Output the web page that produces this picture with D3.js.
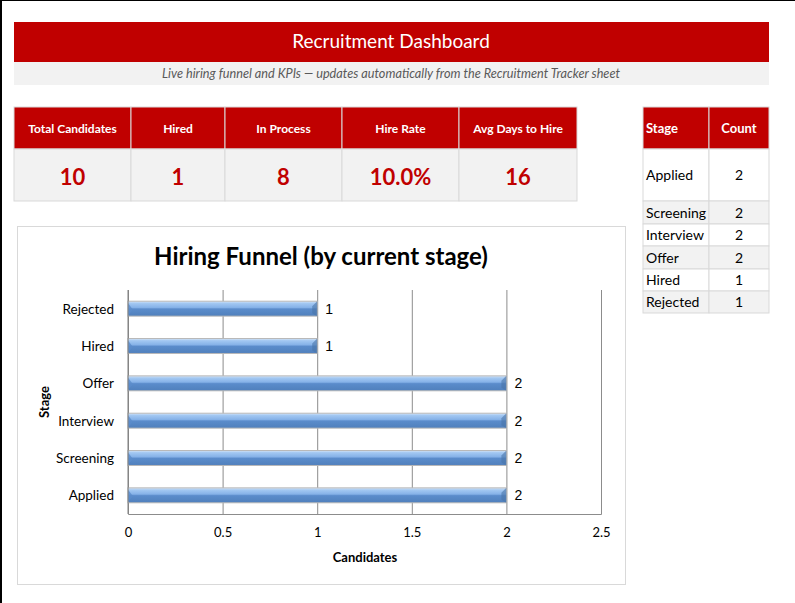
<!DOCTYPE html>
<html>
<head>
<meta charset="utf-8">
<script src="https://cdn.jsdelivr.net/npm/d3@7"></script>
<style>
  body { margin: 0; background: #fff; }
  svg { display: block; }
</style>
</head>
<body>
<script>
// chart values
var stages = ["Applied", "Screening", "Interview", "Offer", "Hired", "Rejected"];
var counts = [2, 2, 2, 2, 1, 1];
var kpiLabels = ["Total Candidates", "Hired", "In Process", "Hire Rate", "Avg Days to Hire"];
var kpiValues = ["10", "1", "8", "10.0%", "16"];
var xTicks = [0, 0.5, 1, 1.5, 2, 2.5];

var RED = "#C00000", GREY = "#F2F2F2", LINE = "#D9D9D9";
var calibri = "Lato, 'Open Sans', sans-serif";

var svg = d3.select("body").append("svg")
  .attr("width", 795)
  .attr("height", 603);

// sheet edge
svg.append("rect").attr("x", 0).attr("y", 0).attr("width", 795).attr("height", 1).attr("fill", "#000");
svg.append("rect").attr("x", 0).attr("y", 0).attr("width", 2).attr("height", 603).attr("fill", "#000");

// banner
svg.append("rect").attr("x", 14).attr("y", 22).attr("width", 755).attr("height", 40).attr("fill", RED);
svg.append("text").attr("x", 391).attr("y", 48)
  .attr("text-anchor", "middle").attr("fill", "#fff")
  .style("font-family", calibri).style("font-size", "19px")
  .text("Recruitment Dashboard");
svg.append("rect").attr("x", 14).attr("y", 62).attr("width", 755).attr("height", 23).attr("fill", GREY);
svg.append("text").attr("x", 391).attr("y", 77.5)
  .attr("text-anchor", "middle").attr("fill", "#595959")
  .style("font-family", calibri).style("font-size", "12.7px").style("font-style", "italic")
  .text("Live hiring funnel and KPIs \u2014 updates automatically from the Recruitment Tracker sheet");

// KPI table
var kpiX = [14, 131, 225, 342, 459, 577];
var kpi = svg.append("g");
kpiLabels.forEach(function(lbl, i) {
  var x0 = kpiX[i], w = kpiX[i + 1] - kpiX[i];
  kpi.append("rect").attr("x", x0).attr("y", 107).attr("width", w).attr("height", 42)
    .attr("fill", RED).attr("stroke", LINE).attr("stroke-width", 1);
  kpi.append("rect").attr("x", x0).attr("y", 149).attr("width", w).attr("height", 52)
    .attr("fill", GREY).attr("stroke", LINE).attr("stroke-width", 1);
  kpi.append("text").attr("x", x0 + w / 2).attr("y", 133)
    .attr("text-anchor", "middle").attr("fill", "#fff")
    .style("font-family", calibri).style("font-size", "12px").style("font-weight", "bold")
    .text(lbl);
  kpi.append("text").attr("x", x0 + w / 2).attr("y", 185)
    .attr("text-anchor", "middle").attr("fill", RED)
    .style("font-family", calibri).style("font-size", "22px").style("font-weight", "bold")
    .text(kpiValues[i]);
});

// stage count table
var tbl = svg.append("g");
var rowY = [149, 201, 224, 246, 269, 291, 313];
[[643, 66, "Stage", "start"], [709, 60, "Count", "middle"]].forEach(function(c) {
  tbl.append("rect").attr("x", c[0]).attr("y", 107).attr("width", c[1]).attr("height", 42)
    .attr("fill", RED).attr("stroke", LINE);
  tbl.append("text").attr("x", c[3] == "start" ? c[0] + 3 : c[0] + c[1] / 2).attr("y", 133)
    .attr("text-anchor", c[3]).attr("fill", "#fff")
    .style("font-family", calibri).style("font-size", "13px").style("font-weight", "bold")
    .text(c[2]);
});
stages.forEach(function(s, i) {
  var y0 = rowY[i], h = rowY[i + 1] - rowY[i];
  var fill = i % 2 == 1 ? GREY : "#fff";
  tbl.append("rect").attr("x", 643).attr("y", y0).attr("width", 66).attr("height", h)
    .attr("fill", fill).attr("stroke", LINE);
  tbl.append("rect").attr("x", 709).attr("y", y0).attr("width", 60).attr("height", h)
    .attr("fill", fill).attr("stroke", LINE);
  tbl.append("text").attr("x", 646).attr("y", y0 + h / 2 + 5)
    .attr("fill", "#000").style("font-family", calibri).style("font-size", "14px")
    .text(s);
  tbl.append("text").attr("x", 739).attr("y", y0 + h / 2 + 5)
    .attr("text-anchor", "middle")
    .attr("fill", "#000").style("font-family", calibri).style("font-size", "14px")
    .text(counts[i]);
});

// chart box
svg.append("rect").attr("x", 17.5).attr("y", 226.5).attr("width", 608).attr("height", 358)
  .attr("fill", "#fff").attr("stroke", LINE);
svg.append("text").attr("x", 321).attr("y", 265)
  .attr("text-anchor", "middle").attr("fill", "#000")
  .style("font-family", calibri).style("font-size", "24px").style("font-weight", "bold")
  .text("Hiring Funnel (by current stage)");

var x = d3.scaleLinear().domain([0, 2.5]).range([128, 601]);
var y = d3.scaleBand().domain(stages.slice().reverse()).range([290, 514])
  .paddingInner(0.6).paddingOuter(0.3);

var defs = svg.append("defs");
var grad = defs.append("linearGradient").attr("id", "barGrad")
  .attr("x1", 0).attr("y1", 0).attr("x2", 0).attr("y2", 1);
[["0%", "#D8E7F8"], ["14%", "#A3C8F2"], ["42%", "#86B2E8"], ["52%", "#5B8CCB"], ["100%", "#5080BC"]]
  .forEach(function(s) { grad.append("stop").attr("offset", s[0]).attr("stop-color", s[1]); });

// gridlines
svg.append("g")
  .attr("transform", "translate(0,514)")
  .call(d3.axisBottom(x).tickValues(xTicks).tickSize(-224).tickFormat(""))
  .call(function(g) {
    g.select(".domain").attr("stroke", "#8C8C8C");
    g.selectAll(".tick line").attr("stroke", "#8C8C8C");
  });

// tick labels
svg.append("g")
  .attr("transform", "translate(0,514)")
  .call(d3.axisBottom(x).tickValues(xTicks).tickSize(0).tickPadding(14)
    .tickFormat(function(d) { return d; }))
  .call(function(g) {
    g.select(".domain").remove();
    g.selectAll("text").attr("fill", "#000")
      .style("font-family", calibri).style("font-size", "13px");
  });

// bars
var bars = svg.append("g");
bars.selectAll("rect.bar")
  .data(stages)
  .enter().append("rect")
  .attr("class", "bar")
  .attr("x", x(0))
  .attr("y", function(d) { return y(d); })
  .attr("width", function(d, i) { return x(counts[i]) - x(0); })
  .attr("height", y.bandwidth())
  .attr("fill", "url(#barGrad)")
  .attr("stroke", "#B8B8B8")
  .attr("stroke-width", 1);
// bevel ends
bars.selectAll("path.bevel")
  .data(stages)
  .enter().append("path")
  .attr("class", "bevel")
  .attr("d", function(d, i) {
    var x1 = x(counts[i]), y0 = y(d), h = y.bandwidth();
    return "M" + (x1 - 5) + "," + (y0 + 5) + "L" + x1 + "," + y0 + "L" + x1 + "," + (y0 + h) +
      "L" + (x1 - 5) + "," + (y0 + h - 3) + "Z";
  })
  .attr("fill", "#4A74A8").attr("opacity", 0.6);
bars.selectAll("path.lbevel")
  .data(stages)
  .enter().append("path")
  .attr("class", "lbevel")
  .attr("d", function(d) {
    var x0 = x(0), y0 = y(d), h = y.bandwidth();
    return "M" + x0 + "," + (y0 + 2) + "L" + (x0 + 5) + "," + (y0 + h / 2 + 1) + "L" + x0 + "," + (y0 + h - 1) + "Z";
  })
  .attr("fill", "#5B8CCB").attr("opacity", 0.8);

// left axis line
svg.append("line").attr("x1", 128).attr("x2", 128).attr("y1", 290).attr("y2", 514)
  .attr("stroke", "#7F7F7F");

// value labels
svg.append("g").selectAll("text")
  .data(stages)
  .enter().append("text")
  .attr("x", function(d, i) { return x(counts[i]) + 8; })
  .attr("y", function(d) { return y(d) + y.bandwidth() / 2 + 5; })
  .attr("fill", "#000")
  .style("font-family", "'Liberation Sans', Arial, sans-serif").style("font-size", "14px")
  .text(function(d, i) { return counts[i]; });

// category labels
svg.append("g").selectAll("text")
  .data(stages)
  .enter().append("text")
  .attr("x", 114)
  .attr("y", function(d) { return y(d) + y.bandwidth() / 2 + 5; })
  .attr("text-anchor", "end")
  .attr("fill", "#000")
  .style("font-family", calibri).style("font-size", "13.5px")
  .text(function(d) { return d; });

// axis titles
svg.append("text").attr("x", 365).attr("y", 562)
  .attr("text-anchor", "middle").attr("fill", "#000")
  .style("font-family", calibri).style("font-size", "13px").style("font-weight", "bold")
  .text("Candidates");
svg.append("text")
  .attr("transform", "translate(49,402) rotate(-90)")
  .attr("text-anchor", "middle").attr("fill", "#000")
  .style("font-family", calibri).style("font-size", "13px").style("font-weight", "bold")
  .text("Stage");
</script>
</body>
</html>
